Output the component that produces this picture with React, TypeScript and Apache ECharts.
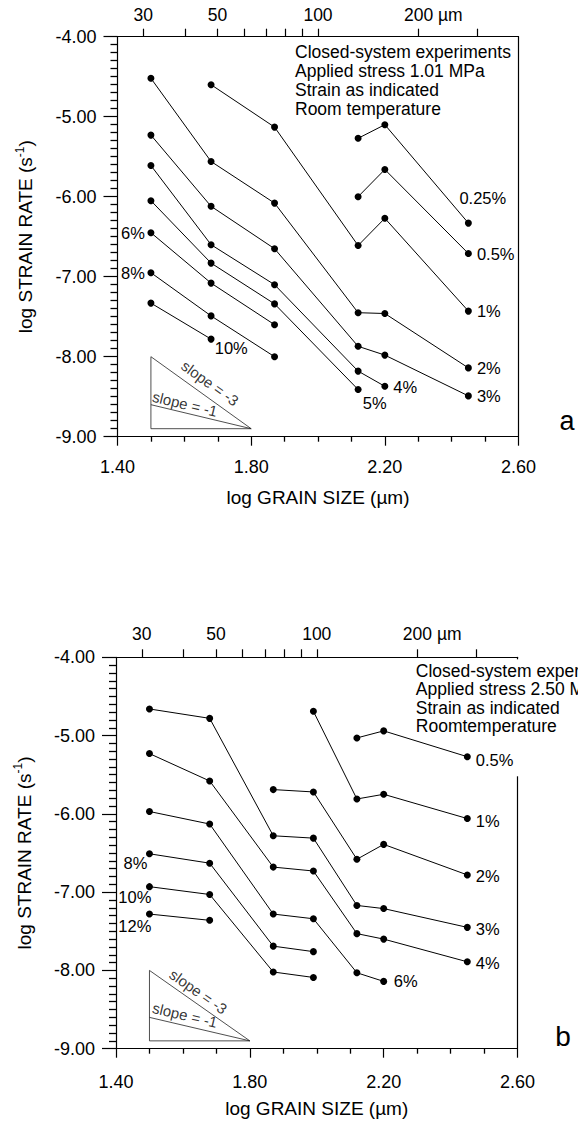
import React, { useEffect, useRef } from "react";
import * as echarts from "echarts";

// ---- axis definitions ----
const X_MIN = 1.4;
const X_MAX = 2.6;
const X_STEP = 0.4;
const Y_MIN = -9;
const Y_MAX = -4;
const Y_STEP = 1;
const topTickGrain = [30, 40, 50, 60, 70, 80, 90, 100, 200, 300];
const topLabelGrain = [30, 50, 100, 200];

// ---- panel a (applied stress 1.01 MPa) ----
const strainsA = ["0.25%", "0.5%", "1%", "2%", "3%", "4%", "5%", "6%", "8%", "10%"];
const logGrainA = [
  [2.12, 2.2, 2.45],
  [2.12, 2.2, 2.45],
  [1.68, 1.87, 2.12, 2.2, 2.45],
  [1.5, 1.68, 1.87, 2.12, 2.2, 2.45],
  [1.5, 1.68, 1.87, 2.12, 2.2, 2.45],
  [1.5, 1.68, 1.87, 2.12, 2.2],
  [1.5, 1.68, 1.87, 2.12],
  [1.5, 1.68, 1.87],
  [1.5, 1.68, 1.87],
  [1.5, 1.68],
];
const logRateA = [
  [-5.27, -5.1, -6.33],
  [-6.0, -5.66, -6.71],
  [-4.6, -5.13, -6.61, -6.27, -7.43],
  [-4.52, -5.56, -6.08, -7.45, -7.46, -8.14],
  [-5.23, -6.12, -6.65, -7.87, -7.98, -8.49],
  [-5.61, -6.6, -7.1, -8.18, -8.37],
  [-6.05, -6.83, -7.34, -8.41],
  [-6.45, -7.08, -7.6],
  [-6.95, -7.49, -8.0],
  [-7.33, -7.78],
];

// ---- panel b (applied stress 2.50 MPa) ----
const strainsB = ["0.5%", "1%", "2%", "3%", "4%", "6%", "8%", "10%", "12%"];
const logGrainB = [
  [2.12, 2.2, 2.45],
  [1.99, 2.12, 2.2, 2.45],
  [1.87, 1.99, 2.12, 2.2, 2.45],
  [1.5, 1.68, 1.87, 1.99, 2.12, 2.2, 2.45],
  [1.5, 1.68, 1.87, 1.99, 2.12, 2.2, 2.45],
  [1.5, 1.68, 1.87, 1.99, 2.12, 2.2],
  [1.5, 1.68, 1.87, 1.99],
  [1.5, 1.68, 1.87, 1.99],
  [1.5, 1.68],
];
const logRateB = [
  [-5.03, -4.94, -5.27],
  [-4.69, -5.81, -5.75, -6.06],
  [-5.69, -5.72, -6.58, -6.39, -6.78],
  [-4.66, -4.78, -6.28, -6.31, -7.17, -7.21, -7.45],
  [-5.23, -5.58, -6.68, -6.73, -7.53, -7.6, -7.89],
  [-5.97, -6.13, -7.28, -7.34, -8.03, -8.14],
  [-6.51, -6.63, -7.69, -7.76],
  [-6.93, -7.03, -8.02, -8.09],
  [-7.28, -7.36],
];

// ---- slope reference triangle ----
const slopeTriangle = [
  [1.5, -8.0],
  [1.8, -8.9],
  [1.5, -8.9],
  [1.5, -8.0],
];
const slopeOneLine = [
  [1.5, -8.6],
  [1.8, -8.9],
];
const slopeTexts = ["slope = -3", "slope = -1"];

const legendA = ["Closed-system experiments", "Applied stress 1.01 MPa", "Strain as indicated", "Room temperature"];
const legendB = ["Closed-system experiments", "Applied stress 2.50 MPa", "Strain as indicated", "Roomtemperature"];

// ---- layout / style (not data) ----
const FONT = "Liberation Sans, Arial, Helvetica, sans-serif";
const GRID_A = { left: 117.5, top: 36.7, width: 401, height: 400 };
const GRID_B = { left: 116, top: 657.3, width: 401.5, height: 391.4 };

type LabelCfg = { at: "first" | "last"; pos: string; off: number[] };
const labelCfgA: LabelCfg[] = [
  { at: "last", pos: "right", off: [-17.5, -25.5] },
  { at: "last", pos: "right", off: [0, 0] },
  { at: "last", pos: "right", off: [0, 0] },
  { at: "last", pos: "right", off: [0, 0] },
  { at: "last", pos: "right", off: [0, 0] },
  { at: "last", pos: "right", off: [0, 0.5] },
  { at: "last", pos: "right", off: [-3.8, 13.4] },
  { at: "first", pos: "left", off: [2.5, 0] },
  { at: "first", pos: "left", off: [2.5, 0] },
  { at: "last", pos: "right", off: [-4.8, 9] },
];
const labelCfgB: LabelCfg[] = [
  { at: "last", pos: "right", off: [0, 3] },
  { at: "last", pos: "right", off: [0, 2] },
  { at: "last", pos: "right", off: [0, 1] },
  { at: "last", pos: "right", off: [0, 2] },
  { at: "last", pos: "right", off: [0, 1] },
  { at: "last", pos: "right", off: [1.6, 0] },
  { at: "first", pos: "left", off: [6.4, 9.3] },
  { at: "first", pos: "left", off: [10.4, 10] },
  { at: "first", pos: "left", off: [10.4, 11.7] },
];

function axesFor(gi: number, nameGapX: number, topMargin: number, bottomMargin: number) {
  const black = { color: "#000", width: 1.2 };
  const minorStyle = { color: "#000", width: 1.3 };
  const bottom = {
    gridIndex: gi,
    type: "value",
    position: "bottom",
    min: X_MIN,
    max: X_MAX,
    interval: X_STEP,
    axisLine: { show: true, onZero: false, lineStyle: black },
    axisTick: { show: true, length: 9, lineStyle: black },
    minorTick: { show: true, splitNumber: 4, length: 5, lineStyle: minorStyle },
    splitLine: { show: false },
    minorSplitLine: { show: false },
    axisLabel: {
      formatter: (v: number) => v.toFixed(2),
      fontSize: 18,
      color: "#000",
      fontFamily: FONT,
      margin: bottomMargin,
    },
    name: "log GRAIN SIZE (µm)",
    nameLocation: "middle",
    nameGap: nameGapX,
    nameTextStyle: { fontSize: 19, color: "#000", fontFamily: FONT },
  };
  const top = {
    gridIndex: gi,
    type: "value",
    position: "top",
    min: X_MIN,
    max: X_MAX,
    axisLine: { show: true, onZero: false, lineStyle: black },
    axisTick: { show: true, length: 8, lineStyle: black, customValues: topTickGrain.map((d) => Math.log10(d)) },
    splitLine: { show: false },
    axisLabel: {
      customValues: topLabelGrain.map((d) => Math.log10(d)),
      margin: topMargin,
      formatter: (v: number) => {
        const d = Math.round(Math.pow(10, v));
        return d === 200 ? "{p|200}{n| µm}" : "{n|" + d + "}";
      },
      rich: {
        n: { fontSize: 17.5, color: "#000", fontFamily: FONT },
        p: { fontSize: 17.5, color: "#000", fontFamily: FONT, padding: [0, 0, 0, 29.5] },
      },
    },
  };
  const left = {
    gridIndex: gi,
    type: "value",
    position: "left",
    min: Y_MIN,
    max: Y_MAX,
    interval: Y_STEP,
    axisLine: { show: true, onZero: false, lineStyle: black },
    axisTick: { show: true, length: 14, lineStyle: black },
    minorTick: { show: true, splitNumber: 10, length: 7, lineStyle: minorStyle },
    splitLine: { show: false },
    minorSplitLine: { show: false },
    axisLabel: {
      formatter: (v: number) => v.toFixed(2),
      fontSize: 18,
      color: "#000",
      fontFamily: FONT,
      margin: 21,
    },
    name: "{t|log STRAIN RATE (s}{s|-1}{t|)}",
    nameLocation: "middle",
    nameGap: 80,
    nameRotate: 90,
    nameTextStyle: {
      color: "#000",
      fontFamily: FONT,
      fontSize: 19,
      rich: {
        t: { fontSize: 19, color: "#000", fontFamily: FONT, lineHeight: 24 },
        s: { fontSize: 12, color: "#000", fontFamily: FONT, verticalAlign: "top", lineHeight: 24 },
      },
    },
  };
  const right = {
    gridIndex: gi,
    type: "value",
    position: "right",
    min: Y_MIN,
    max: Y_MAX,
    axisLine: { show: true, onZero: false, lineStyle: black },
    axisTick: { show: false },
    axisLabel: { show: false },
    splitLine: { show: false },
  };
  return { x: [bottom, top], y: [left, right] };
}

function seriesFor(
  xi: number,
  yi: number,
  names: string[],
  xs: number[][],
  ys: number[][],
  cfg: LabelCfg[],
  g: any,
  slopePos: number[][]
) {
  const out: any[] = [];
  names.forEach((name, s) => {
    const c = cfg[s];
    const li = c.at === "first" ? 0 : xs[s].length - 1;
    out.push({
      type: "line",
      name,
      xAxisIndex: xi,
      yAxisIndex: yi,
      symbol: "circle",
      symbolSize: 7,
      showSymbol: true,
      silent: true,
      clip: false,
      lineStyle: { color: "#000", width: 1 },
      itemStyle: { color: "#000" },
      data: xs[s].map((x, i) => {
        const item: any = { value: [x, ys[s][i]] };
        if (i === li) {
          item.label = {
            show: true,
            position: c.pos,
            distance: 5,
            offset: c.off,
            formatter: name,
            fontSize: 16.5,
            color: "#000",
            fontFamily: FONT,
          };
        }
        return item;
      }),
    });
  });
  out.push({
    type: "line",
    xAxisIndex: xi,
    yAxisIndex: yi,
    symbol: "none",
    silent: true,
    lineStyle: { color: "#222", width: 0.8 },
    data: slopeTriangle,
  });
  out.push({
    type: "line",
    xAxisIndex: xi,
    yAxisIndex: yi,
    symbol: "none",
    silent: true,
    lineStyle: { color: "#222", width: 0.8 },
    data: slopeOneLine,
  });
  const pxX = g.width / (X_MAX - X_MIN);
  const pxY = g.height / (Y_MAX - Y_MIN);
  const angles = [3, 1].map((k) => (Math.atan((k * pxY) / pxX) * 180) / Math.PI);
  out.push({
    type: "scatter",
    xAxisIndex: xi,
    yAxisIndex: yi,
    symbolSize: 1,
    silent: true,
    itemStyle: { color: "rgba(0,0,0,0)" },
    data: slopeTexts.map((t, i) => ({
      value: slopePos[i],
      label: {
        show: true,
        position: "inside",
        rotate: -angles[i],
        formatter: t,
        fontSize: 15,
        color: "#000",
        fontFamily: FONT,
      },
    })),
  });
  return out;
}

export default function App() {
  const ref = useRef<HTMLDivElement>(null);
  useEffect(() => {
    if (!ref.current) return;
    const chart = echarts.init(ref.current, null, { renderer: "svg" });
    const axA = axesFor(0, 51.5, 13, 21);
    const axB = axesFor(1, 50, 14, 24);
    const series = [
      ...seriesFor(0, 0, strainsA, logGrainA, logRateA, labelCfgA, GRID_A, [
        [1.677, -8.33],
        [1.602, -8.59],
      ]),
      ...seriesFor(2, 2, strainsB, logGrainB, logRateB, labelCfgB, GRID_B, [
        [1.646, -8.27],
        [1.606, -8.57],
      ]),
    ];
    const rightB = GRID_B.left + GRID_B.width;
    chart.setOption({
      animation: false,
      backgroundColor: "#fff",
      textStyle: { fontFamily: FONT, color: "#000" },
      grid: [
        { ...GRID_A, containLabel: false },
        { ...GRID_B, containLabel: false },
      ],
      xAxis: [...axA.x, ...axB.x],
      yAxis: [...axA.y, ...axB.y],
      series,
      graphic: [
        {
          type: "text",
          x: 295,
          y: 42.8,
          z: 20,
          style: { text: legendA.join("\n"), fontSize: 17.5, fontFamily: FONT, lineHeight: 19, fill: "#000" },
        },
        {
          type: "rect",
          z: 19,
          shape: { x: rightB - 3, y: GRID_B.top + 2, width: 6, height: 117 },
          style: { fill: "#fff" },
        },
        {
          type: "text",
          x: 415.8,
          y: 661.5,
          z: 20,
          style: { text: legendB.join("\n"), fontSize: 17.5, fontFamily: FONT, lineHeight: 18.5, fill: "#000" },
        },
        {
          type: "text",
          x: 567,
          y: 421,
          z: 20,
          style: { text: "a", fontSize: 27, fontFamily: FONT, fill: "#000", align: "center", verticalAlign: "middle" },
        },
        {
          type: "text",
          x: 563,
          y: 1036,
          z: 20,
          style: { text: "b", fontSize: 28, fontFamily: FONT, fill: "#000", align: "center", verticalAlign: "middle" },
        },
      ],
    });
    return () => chart.dispose();
  }, []);
  return <div ref={ref} style={{ position: "absolute", left: 0, top: 0, width: 578, height: 1123 }} />;
}
